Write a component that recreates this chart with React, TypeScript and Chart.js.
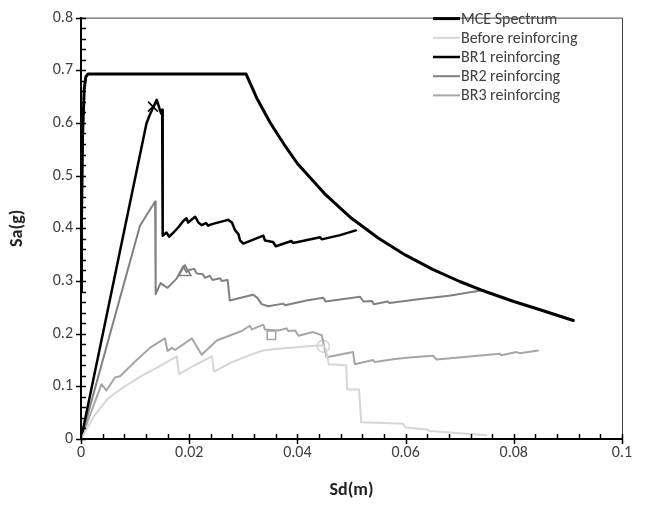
import React, { useEffect, useRef } from 'react';
import { Chart, registerables } from 'chart.js';

Chart.register(...registerables);

const FONT = "Carlito, Calibri, Lato, 'Open Sans', sans-serif";

// MCE spectrum
const sdMCE = [0, 0.0001, 0.0003, 0.0006, 0.0009, 0.0013, 0.0305, 0.0325, 0.035, 0.0375, 0.04, 0.045, 0.05, 0.055, 0.06, 0.065, 0.07, 0.075, 0.08, 0.085, 0.091];
const saMCE = [0.28, 0.42, 0.58, 0.665, 0.688, 0.693, 0.693, 0.647, 0.600, 0.560, 0.523, 0.466, 0.419, 0.381, 0.349, 0.322, 0.299, 0.279, 0.261, 0.245, 0.225];

// Before reinforcing
const sdBefore = [0, 0.0025, 0.005, 0.0075, 0.0112, 0.0143, 0.0177, 0.0181, 0.021, 0.0242, 0.0246, 0.0279, 0.0316, 0.0337, 0.036, 0.042, 0.0447, 0.0452, 0.0458, 0.049, 0.0492, 0.0514, 0.0518, 0.0595, 0.06, 0.064, 0.0645, 0.07, 0.0749];
const saBefore = [0, 0.045, 0.077, 0.096, 0.12, 0.137, 0.157, 0.123, 0.14, 0.157, 0.128, 0.146, 0.161, 0.168, 0.171, 0.176, 0.178, 0.172, 0.142, 0.14, 0.094, 0.094, 0.032, 0.029, 0.022, 0.018, 0.015, 0.011, 0.007];

// BR1 reinforcing
const sdBR1 = [0, 0.0121, 0.0127, 0.014, 0.0148, 0.015, 0.0151, 0.0158, 0.0163, 0.0171, 0.018, 0.0189, 0.0195, 0.0198, 0.0211, 0.0217, 0.0223, 0.0231, 0.0235, 0.0242, 0.0272, 0.0279, 0.0285, 0.0291, 0.0294, 0.03, 0.0337, 0.034, 0.0355, 0.036, 0.0389, 0.0392, 0.0442, 0.0445, 0.0479, 0.0508];
const saBR1 = [0, 0.599, 0.615, 0.644, 0.618, 0.625, 0.386, 0.392, 0.384, 0.392, 0.402, 0.414, 0.419, 0.411, 0.422, 0.411, 0.406, 0.41, 0.405, 0.408, 0.416, 0.411, 0.396, 0.389, 0.377, 0.371, 0.386, 0.377, 0.374, 0.366, 0.376, 0.372, 0.383, 0.379, 0.387, 0.396];

// BR2 reinforcing
const sdBR2 = [0, 0.0109, 0.0137, 0.0138, 0.0147, 0.016, 0.0177, 0.0189, 0.0195, 0.02, 0.0209, 0.0214, 0.0225, 0.0229, 0.0238, 0.0243, 0.0257, 0.026, 0.0271, 0.0275, 0.0318, 0.0326, 0.0334, 0.0346, 0.0374, 0.0377, 0.0417, 0.0448, 0.0452, 0.0516, 0.0522, 0.0538, 0.0541, 0.0567, 0.057, 0.062, 0.068, 0.0745];
const saBR2 = [0, 0.405, 0.451, 0.275, 0.296, 0.287, 0.305, 0.328, 0.317, 0.321, 0.323, 0.314, 0.313, 0.306, 0.31, 0.302, 0.305, 0.3, 0.302, 0.263, 0.274, 0.268, 0.256, 0.252, 0.257, 0.254, 0.263, 0.268, 0.261, 0.27, 0.261, 0.262, 0.256, 0.261, 0.258, 0.265, 0.272, 0.283];

// BR3 reinforcing
const sdBR3 = [0, 0.0038, 0.0047, 0.0063, 0.0072, 0.0105, 0.013, 0.0155, 0.016, 0.0168, 0.0174, 0.0205, 0.0223, 0.0251, 0.0297, 0.0312, 0.0316, 0.0337, 0.034, 0.0365, 0.038, 0.0383, 0.0396, 0.0402, 0.0429, 0.0445, 0.0454, 0.0503, 0.0506, 0.054, 0.0543, 0.058, 0.0612, 0.0651, 0.0657, 0.0774, 0.0777, 0.0805, 0.0811, 0.0845];
const saBR3 = [0, 0.104, 0.092, 0.117, 0.119, 0.152, 0.175, 0.191, 0.167, 0.173, 0.169, 0.191, 0.16, 0.187, 0.205, 0.215, 0.208, 0.217, 0.208, 0.206, 0.21, 0.205, 0.206, 0.196, 0.203, 0.197, 0.155, 0.165, 0.142, 0.15, 0.146, 0.152, 0.155, 0.158, 0.151, 0.162, 0.159, 0.165, 0.163, 0.168];

// Marker points [Sd, Sa]
const markBR1 = [0.0133, 0.631];
const markBR2 = [0.0192, 0.317];
const markBR3 = [0.0352, 0.197];
const markBefore = [0.0448, 0.176];

const xTicks = [0, 0.02, 0.04, 0.06, 0.08, 0.1];
const yTicks = [0, 0.1, 0.2, 0.3, 0.4, 0.5, 0.6, 0.7, 0.8];

const pts = (xs: number[], ys: number[]) => xs.map((x, i) => ({ x, y: ys[i] }));

const LEGEND_COUNT = 5;

const framePlugin = {
  id: 'framePlugin',
  afterDraw(chart: any) {
    const { ctx, chartArea, scales } = chart;
    const xs = scales.x;
    const ys = scales.y;
    const { left, right, top, bottom } = chartArea;
    ctx.save();
    // top & right frame
    ctx.strokeStyle = '#404040';
    ctx.lineWidth = 1;
    ctx.beginPath();
    ctx.moveTo(left, top + 0.5);
    ctx.lineTo(right + 0.5, top + 0.5);
    ctx.lineTo(right + 0.5, bottom);
    ctx.stroke();
    // ticks
    ctx.strokeStyle = '#000';
    ctx.lineWidth = 1.5;
    ctx.beginPath();
    for (let i = 0; i < xTicks.length; i++) {
      const px = Math.round(xs.getPixelForValue(xTicks[i])) + 0.5;
      ctx.moveTo(px, bottom - 5);
      ctx.lineTo(px, bottom + 5);
      if (i < xTicks.length - 1) {
        const step = (xTicks[i + 1] - xTicks[i]) / 5;
        for (let k = 1; k < 5; k++) {
          const mx = Math.round(xs.getPixelForValue(xTicks[i] + k * step)) + 0.5;
          ctx.moveTo(mx, bottom - 5);
          ctx.lineTo(mx, bottom);
        }
      }
    }
    for (let i = 0; i < yTicks.length; i++) {
      const py = Math.round(ys.getPixelForValue(yTicks[i])) + 0.5;
      ctx.moveTo(left - 5, py);
      ctx.lineTo(left + 5, py);
      if (i < yTicks.length - 1) {
        const step = (yTicks[i + 1] - yTicks[i]) / 5;
        for (let k = 1; k < 5; k++) {
          const my = Math.round(ys.getPixelForValue(yTicks[i] + k * step)) + 0.5;
          ctx.moveTo(left, my);
          ctx.lineTo(left + 5, my);
        }
      }
    }
    ctx.stroke();
    // legend
    const lx0 = right - 189;
    const lx1 = right - 162;
    ctx.font = `16px ${FONT}`;
    ctx.textBaseline = 'middle';
    ctx.textAlign = 'left';
    for (let i = 0; i < LEGEND_COUNT; i++) {
      const ds = chart.data.datasets[i];
      const y = top + 1 + i * 19.2;
      ctx.strokeStyle = ds.borderColor;
      ctx.lineWidth = ds.borderWidth;
      ctx.lineCap = 'butt';
      ctx.beginPath();
      ctx.moveTo(lx0, y);
      ctx.lineTo(lx1, y);
      ctx.stroke();
      ctx.fillStyle = '#404040';
      ctx.fillText(ds.label, lx1 + 1, y + 1);
    }
    ctx.restore();
  },
};

export default function App() {
  const ref = useRef<HTMLCanvasElement | null>(null);
  useEffect(() => {
    if (!ref.current) return;
    const line = (label: string, xs: number[], ys: number[], color: string, width: number) => ({
      label,
      data: pts(xs, ys),
      borderColor: color,
      backgroundColor: color,
      borderWidth: width,
      pointRadius: 0,
      showLine: true,
      tension: 0,
      borderJoinStyle: 'round',
      borderCapStyle: 'round',
    });
    const mark = (label: string, p: number[], style: string, color: string, r: number) => ({
      label,
      data: [{ x: p[0], y: p[1] }],
      showLine: false,
      pointStyle: style,
      pointRadius: r,
      pointBorderWidth: 1.6,
      borderColor: color,
      backgroundColor: 'rgba(0,0,0,0)',
      pointBackgroundColor: 'rgba(0,0,0,0)',
      pointBorderColor: color,
    });
    const chart = new Chart(ref.current, {
      type: 'scatter',
      data: {
        datasets: [
          line('MCE Spectrum', sdMCE, saMCE, '#000000', 3),
          line('Before reinforcing', sdBefore, saBefore, '#d6d6d6', 2),
          line('BR1 reinforcing', sdBR1, saBR1, '#000000', 2.5),
          line('BR2 reinforcing', sdBR2, saBR2, '#808080', 2),
          line('BR3 reinforcing', sdBR3, saBR3, '#a6a6a6', 2),
          mark('m1', markBR1, 'crossRot', '#000000', 7),
          mark('m2', markBR2, 'triangle', '#808080', 7),
          mark('m3', markBR3, 'rect', '#a6a6a6', 6),
          mark('m4', markBefore, 'circle', '#d6d6d6', 6),
        ] as any,
      },
      options: {
        animation: false,
        responsive: false,
        maintainAspectRatio: false,
        layout: { padding: { top: 13, right: 28, left: 0, bottom: 0 } },
        plugins: { legend: { display: false }, tooltip: { enabled: false } },
        scales: {
          x: {
            type: 'linear',
            min: 0,
            max: 0.1,
            afterBuildTicks: (s: any) => { s.ticks = xTicks.map((v) => ({ value: v })); },
            afterFit: (s: any) => { s.height = 76; },
            ticks: {
              color: '#404040',
              font: { family: FONT, size: 16 },
              padding: 4,
              maxRotation: 0,
              callback: (v: any) => String(Number(Number(v).toFixed(3))),
            },
            grid: { display: false, drawTicks: false, tickLength: 0 },
            border: { display: true, color: '#000', width: 2 },
            title: {
              display: true,
              text: 'Sd(m)',
              color: '#222',
              font: { family: FONT, size: 18, weight: 'bold' },
              padding: { top: 0, bottom: 14 },
            },
          },
          y: {
            type: 'linear',
            min: 0,
            max: 0.8,
            afterBuildTicks: (s: any) => { s.ticks = yTicks.map((v) => ({ value: v })); },
            afterFit: (s: any) => { s.width = 81; },
            ticks: {
              color: '#404040',
              font: { family: FONT, size: 16 },
              padding: 8,
              callback: (v: any) => String(Number(Number(v).toFixed(3))),
            },
            grid: { display: false, drawTicks: false, tickLength: 0 },
            border: { display: true, color: '#000', width: 2 },
            title: {
              display: true,
              text: 'Sa(g)',
              color: '#222',
              font: { family: FONT, size: 18, weight: 'bold' },
              padding: { top: 7, bottom: 0 },
            },
          },
        },
      } as any,
      plugins: [framePlugin],
    });
    return () => chart.destroy();
  }, []);
  return (
    <div style={{ position: 'absolute', left: 0, top: 0, width: 650, height: 515 }}>
      <canvas ref={ref} width={650} height={515} style={{ display: 'block', width: 650, height: 515 }} />
    </div>
  );
}
